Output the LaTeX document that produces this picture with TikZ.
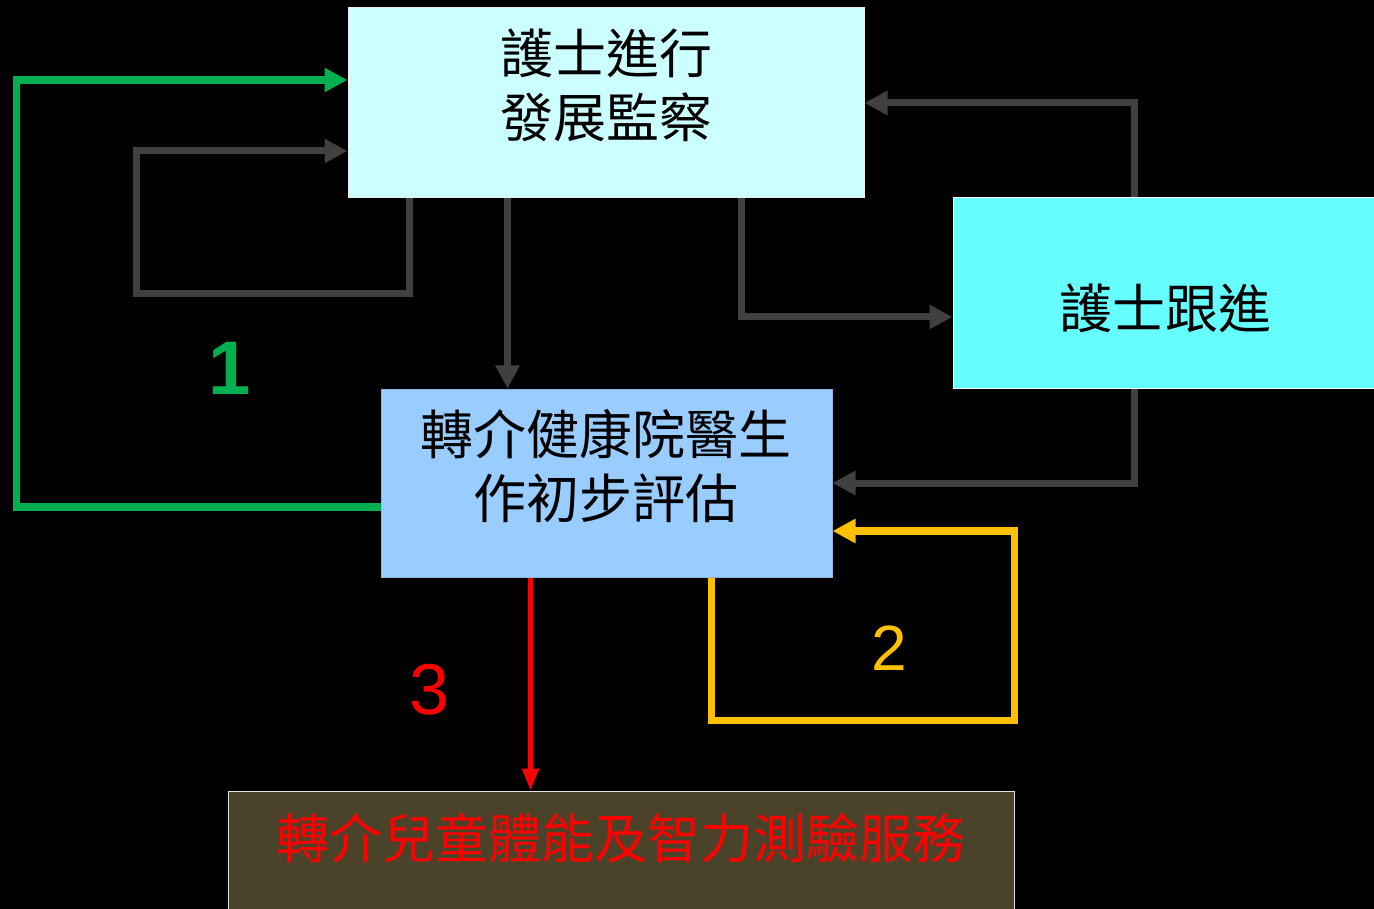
\documentclass[tikz,border=0pt]{standalone}
\usepackage{fontspec}
\setmainfont{Liberation Sans}
\newfontfamily\cjk{Noto Sans CJK TC}
\usetikzlibrary{arrows.meta,calc}
\definecolor{boxA}{HTML}{CCFFFF}
\definecolor{boxB}{HTML}{66FFFF}
\definecolor{boxC}{HTML}{99CCFF}
\definecolor{boxD}{HTML}{4B4329}
\definecolor{lgray}{HTML}{404040}
\definecolor{lgreen}{HTML}{00B050}
\definecolor{lyellow}{HTML}{FFC000}
\definecolor{lred}{HTML}{FF0000}
\tikzset{
  box/.style={rectangle, draw=#1, line width=1pt, inner sep=0pt},
  cjktext/.style={font=\cjk\fontsize{53}{64}\selectfont, align=center, inner sep=0pt},
  garrow/.style={draw=lgray, line width=7pt, -{Triangle[length=23pt,width=23pt]}},
  greenarrow/.style={draw=lgreen, line width=7.5pt, -{Triangle[length=23pt,width=23pt]}},
  yarrow/.style={draw=lyellow, line width=7.5pt, -{Triangle[length=23pt,width=23pt]}},
  rarrow/.style={draw=lred, line width=5pt, -{Triangle[length=22pt,width=16pt]}},
  numlabel/.style={font=\fontsize{70}{70}\selectfont, inner sep=0pt},
}
\begin{document}
\begin{tikzpicture}[x=1pt,y=-1pt]
\useasboundingbox (0,0) rectangle (1374,909);
\fill[black] (0,0) rectangle (1374,909);
% boxes
\node[box=white!85!gray, fill=boxA, minimum width=516pt, minimum height=190pt] (A) at (606,103) {};
\node[box=white, fill=boxB, minimum width=421pt, minimum height=190pt] (B) at (1163.5,293) {};
\node[box=boxC!70!gray, fill=boxC, minimum width=451pt, minimum height=188pt] (C) at (606.5,483) {};
\node[box=white!75!gray, fill=boxD, minimum width=786pt, minimum height=236pt] (D) at (621,909) {};
% texts
\node[cjktext] (At) at (606,85) {護士進行\\發展監察};
\node[cjktext] (Bt) at (1165,308) {護士跟進};
\node[cjktext] (Ct) at (606,466) {轉介健康院醫生\\作初步評估};
\node[cjktext, text=lred] (Dt) at (621,838) {轉介兒童體能及智力測驗服務};
% connector start points
\coordinate (a1) at ($(A.south west)+(62,0)$);
\coordinate (a2) at ($(A.south west)+(160,0)$);
\coordinate (a3) at ($(A.south west)+(394,0)$);
\coordinate (b1) at ($(B.north west)+(182,0)$);
\coordinate (b2) at ($(B.south west)+(182,0)$);
\coordinate (c1) at ($(C.west)+(0,24)$);
\coordinate (c2) at ($(C.south west)+(331,0)$);
\coordinate (c3) at ($(C.south west)+(150,0)$);
% gray connectors
\draw[garrow] (a1) -- ++(0,95) -- ++(-273,0) |- ($(A.west)+(0,48)$);
\draw[garrow] (a2) -- (a2 |- C.north);
\draw[garrow] (a3) |- ($(B.west)+(0,24)$);
\draw[garrow] (b1) |- (A.east);
\draw[garrow] (b2) |- (C.east);
% green loop 1
\draw[greenarrow] (c1) -- ++(-364,0) |- ($(A.west)+(0,-23)$);
\node[numlabel, text=lgreen, font=\fontsize{76}{76}\selectfont\bfseries] (n1) at (230,368) {1};
% yellow loop 2
\draw[yarrow] (c2) -- ++(0,143) -- ++(303,0) |- ($(C.east)+(0,48)$);
\node[numlabel, text=lyellow, font=\fontsize{64}{64}\selectfont] (n2) at (889,648) {2};
% red 3
\draw[rarrow] (c3) -- (c3 |- D.north);
\node[numlabel, text=lred, font=\fontsize{72}{72}\selectfont] (n3) at (430,690) {3};
\end{tikzpicture}
\end{document}
